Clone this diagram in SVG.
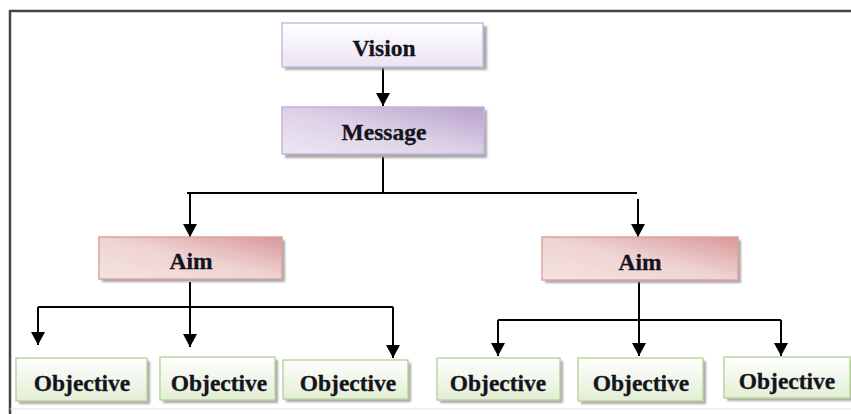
<svg xmlns="http://www.w3.org/2000/svg" width="851" height="414" viewBox="0 0 851 414">
<style>
.t{font-family:"Liberation Serif","Times New Roman",serif;font-weight:bold;font-size:23.5px;fill:#141420;stroke:#141420;stroke-width:0.3;text-anchor:middle}
.c{stroke:#000;stroke-width:2;fill:none}
.sh{fill:#8c8c8c;opacity:0.75}
.vis{fill:url(#gVision);stroke:#cbb9dc;stroke-width:1.5}
.msg{fill:url(#gMsg);stroke:#c6b3d8;stroke-width:1.5}
.aim{fill:url(#gAim);stroke:#dba3a3;stroke-width:1.5}
.obj{fill:url(#gObj);stroke:#bcd69e;stroke-width:1.5}
</style>
<defs>
<linearGradient id="gVision" x1="0" y1="0" x2="0" y2="1"><stop offset="0" stop-color="#ffffff"/><stop offset="1" stop-color="#ebe3f2"/></linearGradient>
<linearGradient id="gMsg" x1="0" y1="1" x2="1" y2="0"><stop offset="0" stop-color="#ede7f2"/><stop offset="0.5" stop-color="#dcd0e6"/><stop offset="1" stop-color="#b7a1cb"/></linearGradient>
<linearGradient id="gAim" x1="0" y1="1" x2="1" y2="0"><stop offset="0" stop-color="#f5e3e3"/><stop offset="0.5" stop-color="#efd3d3"/><stop offset="1" stop-color="#d99898"/></linearGradient>
<linearGradient id="gObj" x1="0" y1="0" x2="0" y2="1"><stop offset="0" stop-color="#ffffff"/><stop offset="1" stop-color="#e2eed4"/></linearGradient>
<filter id="blur" x="-10%" y="-20%" width="120%" height="140%"><feGaussianBlur stdDeviation="1"/></filter>
<marker id="ah" markerUnits="userSpaceOnUse" markerWidth="14" markerHeight="14" refX="13" refY="7" orient="auto"><path d="M0,0 L13,7 L0,14 z" fill="#000"/></marker>
</defs>
<g id="frame">
<line x1="9" y1="11" x2="851" y2="11" stroke="#444" stroke-width="2.5"/>
<line x1="10" y1="10" x2="10" y2="414" stroke="#444" stroke-width="2.5"/>
<line x1="10" y1="409" x2="851" y2="409" stroke="#e4e4e4" stroke-width="1"/>
</g>
<g id="connectors">
<path class="c" d="M383,68 L383,106" marker-end="url(#ah)"/>
<path class="c" d="M383,157 L383,193 M187,193 L637,193"/>
<path class="c" d="M190,193 L190,237" marker-end="url(#ah)"/>
<path class="c" d="M638,199 L638,237" marker-end="url(#ah)"/>
<path class="c" d="M190,282 L190,307 M38,307 L393,307"/>
<path class="c" d="M38,307 L38,345" marker-end="url(#ah)"/>
<path class="c" d="M190,307 L190,347" marker-end="url(#ah)"/>
<path class="c" d="M393,307 L393,358" marker-end="url(#ah)"/>
<path class="c" d="M639,282 L639,320 M498,320 L781,320"/>
<path class="c" d="M498,320 L498,356" marker-end="url(#ah)"/>
<path class="c" d="M639,320 L639,356" marker-end="url(#ah)"/>
<path class="c" d="M781,320 L781,356" marker-end="url(#ah)"/>
</g>
<g id="vision">
<rect class="sh" x="285" y="26" width="202" height="44" filter="url(#blur)"/>
<rect class="vis" x="282" y="23" width="201" height="44"/>
<text class="t" x="384" y="56">Vision</text>
</g>
<g id="message">
<rect class="sh" x="285" y="110" width="202" height="48" filter="url(#blur)"/>
<rect class="msg" x="282" y="107" width="202" height="47"/>
<text class="t" x="384" y="140">Message</text>
</g>
<g id="aim-left">
<rect class="sh" x="102" y="240" width="183" height="42" filter="url(#blur)"/>
<rect class="aim" x="99" y="237" width="183" height="42"/>
<text class="t" x="191" y="269">Aim</text>
</g>
<g id="aim-right">
<rect class="sh" x="545" y="240" width="196" height="43" filter="url(#blur)"/>
<rect class="aim" x="542" y="237" width="196" height="43"/>
<text class="t" x="640" y="270">Aim</text>
</g>
<g id="objective-1">
<rect class="sh" x="19" y="361" width="131" height="43" filter="url(#blur)"/>
<rect class="obj" x="16" y="358" width="131" height="43"/>
<text class="t" x="82" y="391">Objective</text>
</g>
<g id="objective-2">
<rect class="sh" x="163" y="360" width="115" height="43" filter="url(#blur)"/>
<rect class="obj" x="160" y="357" width="115" height="43"/>
<text class="t" x="219" y="391">Objective</text>
</g>
<g id="objective-3">
<rect class="sh" x="286" y="363" width="125" height="39" filter="url(#blur)"/>
<rect class="obj" x="283" y="360" width="125" height="39"/>
<text class="t" x="348" y="391">Objective</text>
</g>
<g id="objective-4">
<rect class="sh" x="440" y="361" width="123" height="42" filter="url(#blur)"/>
<rect class="obj" x="437" y="358" width="123" height="42"/>
<text class="t" x="498" y="391">Objective</text>
</g>
<g id="objective-5">
<rect class="sh" x="581" y="361" width="125" height="43" filter="url(#blur)"/>
<rect class="obj" x="578" y="358" width="125" height="43"/>
<text class="t" x="641" y="391">Objective</text>
</g>
<g id="objective-6">
<rect class="sh" x="727" y="360" width="126" height="41" filter="url(#blur)"/>
<rect class="obj" x="724" y="357" width="126" height="41"/>
<text class="t" x="787" y="389">Objective</text>
</g>
</svg>
